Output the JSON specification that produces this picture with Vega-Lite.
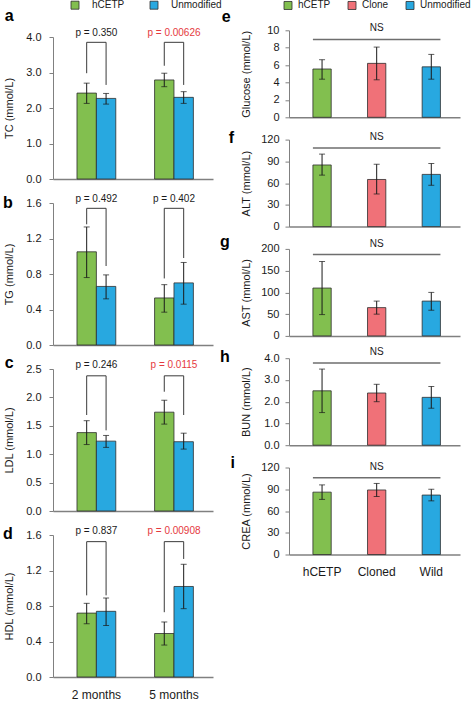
{
  "$schema": "https://vega.github.io/schema/vega-lite/v6.json",
  "padding": {"left": 2, "top": 0, "right": 0, "bottom": 0},
  "background": "white",
  "config": {
    "font": "Liberation Sans",
    "view": {"stroke": null},
    "axis": {"grid": false, "labelOverlap": false, "domainColor": "#808080", "tickColor": "#808080", "labelColor": "#1a1a1a", "titleColor": "#1a1a1a", "titleFontWeight": "normal", "labelFontSize": 11, "titleFontSize": 11, "labelFont": "Liberation Sans", "titleFont": "Liberation Sans"},
    "legend": {"labelFontSize": 10, "labelColor": "#1a1a1a", "labelFont": "Liberation Sans"},
    "title": {"fontSize": 16, "fontWeight": "bold", "color": "#000000", "orient": "left", "anchor": "end", "angle": 0, "align": "left", "frame": "group", "baseline": "alphabetic", "font": "Liberation Sans"}
  },
  "datasets": {
    "lipid": [
      {"panel": "TC", "month": "2 months", "group": "hCETP", "mean": 2.42, "lo": 2.13, "hi": 2.70},
      {"panel": "TC", "month": "2 months", "group": "Unmodified", "mean": 2.27, "lo": 2.11, "hi": 2.41},
      {"panel": "TC", "month": "5 months", "group": "hCETP", "mean": 2.79, "lo": 2.60, "hi": 2.98},
      {"panel": "TC", "month": "5 months", "group": "Unmodified", "mean": 2.30, "lo": 2.13, "hi": 2.46},
      {"panel": "TG", "month": "2 months", "group": "hCETP", "mean": 1.05, "lo": 0.76, "hi": 1.33},
      {"panel": "TG", "month": "2 months", "group": "Unmodified", "mean": 0.66, "lo": 0.52, "hi": 0.79},
      {"panel": "TG", "month": "5 months", "group": "hCETP", "mean": 0.53, "lo": 0.37, "hi": 0.68},
      {"panel": "TG", "month": "5 months", "group": "Unmodified", "mean": 0.70, "lo": 0.46, "hi": 0.93},
      {"panel": "LDL", "month": "2 months", "group": "hCETP", "mean": 1.38, "lo": 1.17, "hi": 1.59},
      {"panel": "LDL", "month": "2 months", "group": "Unmodified", "mean": 1.23, "lo": 1.12, "hi": 1.33},
      {"panel": "LDL", "month": "5 months", "group": "hCETP", "mean": 1.74, "lo": 1.53, "hi": 1.95},
      {"panel": "LDL", "month": "5 months", "group": "Unmodified", "mean": 1.22, "lo": 1.09, "hi": 1.37},
      {"panel": "HDL", "month": "2 months", "group": "hCETP", "mean": 0.72, "lo": 0.60, "hi": 0.83},
      {"panel": "HDL", "month": "2 months", "group": "Unmodified", "mean": 0.74, "lo": 0.58, "hi": 0.89},
      {"panel": "HDL", "month": "5 months", "group": "hCETP", "mean": 0.49, "lo": 0.36, "hi": 0.62},
      {"panel": "HDL", "month": "5 months", "group": "Unmodified", "mean": 1.02, "lo": 0.77, "hi": 1.27}
    ],
    "brackets": [
      {"panel": "TC", "month": "2 months", "group": "hCETP", "o": 1, "y": 2.98},
      {"panel": "TC", "month": "2 months", "group": "hCETP", "o": 2, "y": 3.85},
      {"panel": "TC", "month": "2 months", "group": "Unmodified", "o": 3, "y": 3.85},
      {"panel": "TC", "month": "2 months", "group": "Unmodified", "o": 4, "y": 2.65},
      {"panel": "TC", "month": "5 months", "group": "hCETP", "o": 1, "y": 3.19},
      {"panel": "TC", "month": "5 months", "group": "hCETP", "o": 2, "y": 3.85},
      {"panel": "TC", "month": "5 months", "group": "Unmodified", "o": 3, "y": 3.85},
      {"panel": "TC", "month": "5 months", "group": "Unmodified", "o": 4, "y": 2.65},
      {"panel": "TG", "month": "2 months", "group": "hCETP", "o": 1, "y": 1.36},
      {"panel": "TG", "month": "2 months", "group": "hCETP", "o": 2, "y": 1.54},
      {"panel": "TG", "month": "2 months", "group": "Unmodified", "o": 3, "y": 1.54},
      {"panel": "TG", "month": "2 months", "group": "Unmodified", "o": 4, "y": 0.89},
      {"panel": "TG", "month": "5 months", "group": "hCETP", "o": 1, "y": 0.75},
      {"panel": "TG", "month": "5 months", "group": "hCETP", "o": 2, "y": 1.54},
      {"panel": "TG", "month": "5 months", "group": "Unmodified", "o": 3, "y": 1.54},
      {"panel": "TG", "month": "5 months", "group": "Unmodified", "o": 4, "y": 0.98},
      {"panel": "LDL", "month": "2 months", "group": "hCETP", "o": 1, "y": 1.69},
      {"panel": "LDL", "month": "2 months", "group": "hCETP", "o": 2, "y": 2.38},
      {"panel": "LDL", "month": "2 months", "group": "Unmodified", "o": 3, "y": 2.38},
      {"panel": "LDL", "month": "2 months", "group": "Unmodified", "o": 4, "y": 1.42},
      {"panel": "LDL", "month": "5 months", "group": "hCETP", "o": 1, "y": 2.10},
      {"panel": "LDL", "month": "5 months", "group": "hCETP", "o": 2, "y": 2.38},
      {"panel": "LDL", "month": "5 months", "group": "Unmodified", "o": 3, "y": 2.38},
      {"panel": "LDL", "month": "5 months", "group": "Unmodified", "o": 4, "y": 1.69},
      {"panel": "HDL", "month": "2 months", "group": "hCETP", "o": 1, "y": 0.92},
      {"panel": "HDL", "month": "2 months", "group": "hCETP", "o": 2, "y": 1.525},
      {"panel": "HDL", "month": "2 months", "group": "Unmodified", "o": 3, "y": 1.525},
      {"panel": "HDL", "month": "2 months", "group": "Unmodified", "o": 4, "y": 0.92},
      {"panel": "HDL", "month": "5 months", "group": "hCETP", "o": 1, "y": 0.73},
      {"panel": "HDL", "month": "5 months", "group": "hCETP", "o": 2, "y": 1.525},
      {"panel": "HDL", "month": "5 months", "group": "Unmodified", "o": 3, "y": 1.525},
      {"panel": "HDL", "month": "5 months", "group": "Unmodified", "o": 4, "y": 1.33}
    ],
    "ptext": [
      {"panel": "TC", "month": "2 months", "label": "p = 0.350", "p": "0.350", "y": 4.0},
      {"panel": "TC", "month": "5 months", "label": "p = 0.00626", "p": "0.00626", "y": 4.0},
      {"panel": "TG", "month": "2 months", "label": "p = 0.492", "p": "0.492", "y": 1.6},
      {"panel": "TG", "month": "5 months", "label": "p = 0.402", "p": "0.402", "y": 1.6},
      {"panel": "LDL", "month": "2 months", "label": "p = 0.246", "p": "0.246", "y": 2.5},
      {"panel": "LDL", "month": "5 months", "label": "p = 0.0115", "p": "0.0115", "y": 2.5},
      {"panel": "HDL", "month": "2 months", "label": "p = 0.837", "p": "0.837", "y": 1.6},
      {"panel": "HDL", "month": "5 months", "label": "p = 0.00908", "p": "0.00908", "y": 1.6}
    ],
    "clin": [
      {"panel": "Glucose", "cat": "hCETP", "grp": "hCETP", "mean": 5.55, "lo": 4.38, "hi": 6.62},
      {"panel": "Glucose", "cat": "Cloned", "grp": "Clone", "mean": 6.2, "lo": 4.31, "hi": 8.07},
      {"panel": "Glucose", "cat": "Wild", "grp": "Unmodified", "mean": 5.8, "lo": 4.38, "hi": 7.23},
      {"panel": "ALT", "cat": "hCETP", "grp": "hCETP", "mean": 85, "lo": 71, "hi": 100},
      {"panel": "ALT", "cat": "Cloned", "grp": "Clone", "mean": 65, "lo": 45, "hi": 86},
      {"panel": "ALT", "cat": "Wild", "grp": "Unmodified", "mean": 72, "lo": 57, "hi": 87},
      {"panel": "AST", "cat": "hCETP", "grp": "hCETP", "mean": 110, "lo": 49, "hi": 171},
      {"panel": "AST", "cat": "Cloned", "grp": "Clone", "mean": 65, "lo": 50, "hi": 80},
      {"panel": "AST", "cat": "Wild", "grp": "Unmodified", "mean": 80, "lo": 59, "hi": 100},
      {"panel": "BUN", "cat": "hCETP", "grp": "hCETP", "mean": 2.5, "lo": 1.5, "hi": 3.5},
      {"panel": "BUN", "cat": "Cloned", "grp": "Clone", "mean": 2.4, "lo": 2.0, "hi": 2.8},
      {"panel": "BUN", "cat": "Wild", "grp": "Unmodified", "mean": 2.2, "lo": 1.7, "hi": 2.7},
      {"panel": "CREA", "cat": "hCETP", "grp": "hCETP", "mean": 86, "lo": 76, "hi": 96},
      {"panel": "CREA", "cat": "Cloned", "grp": "Clone", "mean": 89, "lo": 80, "hi": 98},
      {"panel": "CREA", "cat": "Wild", "grp": "Unmodified", "mean": 82, "lo": 74, "hi": 90}
    ],
    "ns": [
      {"panel": "Glucose", "cat": "hCETP", "cat2": "Wild", "mid": "Cloned", "label": "NS", "y": 8.95},
      {"panel": "ALT", "cat": "hCETP", "cat2": "Wild", "mid": "Cloned", "label": "NS", "y": 108.5},
      {"panel": "AST", "cat": "hCETP", "cat2": "Wild", "mid": "Cloned", "label": "NS", "y": 187},
      {"panel": "BUN", "cat": "hCETP", "cat2": "Wild", "mid": "Cloned", "label": "NS", "y": 3.78},
      {"panel": "CREA", "cat": "hCETP", "cat2": "Wild", "mid": "Cloned", "label": "NS", "y": 106}
    ]
  },
  "resolve": {"scale": {"color": "independent"}},
  "bounds": "flush",
  "spacing": 236,
  "hconcat": [
    {
      "bounds": "flush",
      "spacing": 24,
      "resolve": {"scale": {"color": "independent"}},
      "vconcat": [
        {"width": 160, "height": 7, "data": {"values": [{"v": 1}]}, "mark": {"type": "point", "opacity": 0}, "encoding": {}},
        {
          "width": 160, "height": 142,
          "title": {"text": "a", "offset": -19.5, "dy": -28.8},
          "encoding": {"x": {"field": "month", "type": "nominal", "scale": {"domain": ["2 months", "5 months"], "paddingInner": 0.5, "paddingOuter": 0.281, "align": 0.55}, "axis": {"title": null, "labels": false, "ticks": false, "domainWidth": 1.5}}},
          "layer": [
            {"data": {"name": "lipid"}, "transform": [{"filter": "datum.panel == 'TC'"}], "mark": {"type": "bar", "stroke": "#2d2d2d", "strokeWidth": 0.8},
             "encoding": {
               "xOffset": {"field": "group", "type": "nominal", "scale": {"domain": ["hCETP", "Unmodified"]}},
               "y": {"field": "mean", "type": "quantitative", "scale": {"domain": [0, 4], "nice": false}, "axis": {"title": "TC (mmol/L)", "values": [0, 1, 2, 3, 4], "tickCount": 20, "format": ".1f", "tickSize": 4, "labelPadding": 8, "titleX": -44, "titleBaseline": "middle"}},
               "color": {"field": "group", "type": "nominal", "scale": {"domain": ["hCETP", "Unmodified"], "range": ["#82bf4f", "#28a8e0"]}, "legend": {"orient": "none", "legendX": 17, "legendY": -37, "direction": "horizontal", "title": null, "symbolType": "square", "symbolSize": 64, "symbolStrokeColor": "#2d2d2d", "symbolStrokeWidth": 0.8, "symbolOpacity": 1, "labelOffset": 12, "columnPadding": 23, "padding": 0}}
             }},
            {"data": {"name": "lipid"}, "transform": [{"filter": "datum.panel == 'TC'"}], "mark": {"type": "rule", "color": "#1a1a1a", "strokeWidth": 1},
             "encoding": {"xOffset": {"field": "group", "type": "nominal"}, "y": {"field": "lo", "type": "quantitative"}, "y2": {"field": "hi"}}},
            {"data": {"name": "lipid"}, "transform": [{"filter": "datum.panel == 'TC'"}], "mark": {"type": "tick", "orient": "horizontal", "size": 6, "thickness": 1, "color": "#1a1a1a"},
             "encoding": {"xOffset": {"field": "group", "type": "nominal"}, "y": {"field": "lo", "type": "quantitative"}}},
            {"data": {"name": "lipid"}, "transform": [{"filter": "datum.panel == 'TC'"}], "mark": {"type": "tick", "orient": "horizontal", "size": 6, "thickness": 1, "color": "#1a1a1a"},
             "encoding": {"xOffset": {"field": "group", "type": "nominal"}, "y": {"field": "hi", "type": "quantitative"}}},
            {"data": {"name": "brackets"}, "transform": [{"filter": "datum.panel == 'TC'"}], "mark": {"type": "line", "color": "#3a3a3a", "strokeWidth": 1},
             "encoding": {"xOffset": {"field": "group", "type": "nominal"}, "y": {"field": "y", "type": "quantitative"}, "detail": {"field": "month"}, "order": {"field": "o", "type": "quantitative"}}},
            {"data": {"name": "ptext"}, "transform": [{"filter": "datum.panel == 'TC'"}], "mark": {"type": "text", "fontSize": 10, "baseline": "middle", "dy": -4.5},
             "encoding": {"y": {"field": "y", "type": "quantitative"}, "text": {"field": "label"}, "color": {"condition": {"test": "toNumber(datum.p) < 0.05", "value": "#e5393e"}, "value": "#1a1a1a"}}}
          ]
        },
        {
          "width": 160, "height": 142,
          "title": {"text": "b", "offset": -19.5, "dy": -8.5},
          "encoding": {"x": {"field": "month", "type": "nominal", "scale": {"domain": ["2 months", "5 months"], "paddingInner": 0.5, "paddingOuter": 0.281, "align": 0.55}, "axis": {"title": null, "labels": false, "ticks": false, "domainWidth": 1.5}}},
          "layer": [
            {"data": {"name": "lipid"}, "transform": [{"filter": "datum.panel == 'TG'"}], "mark": {"type": "bar", "stroke": "#2d2d2d", "strokeWidth": 0.8},
             "encoding": {
               "xOffset": {"field": "group", "type": "nominal", "scale": {"domain": ["hCETP", "Unmodified"]}},
               "y": {"field": "mean", "type": "quantitative", "scale": {"domain": [0, 1.6], "nice": false}, "axis": {"title": "TG (mmol/L)", "values": [0, 0.4, 0.8, 1.2, 1.6], "tickCount": 20, "format": ".1f", "tickSize": 4, "labelPadding": 8, "titleX": -44, "titleBaseline": "middle"}},
               "color": {"field": "group", "type": "nominal", "scale": {"domain": ["hCETP", "Unmodified"], "range": ["#82bf4f", "#28a8e0"]}, "legend": null}
             }},
            {"data": {"name": "lipid"}, "transform": [{"filter": "datum.panel == 'TG'"}], "mark": {"type": "rule", "color": "#1a1a1a", "strokeWidth": 1},
             "encoding": {"xOffset": {"field": "group", "type": "nominal"}, "y": {"field": "lo", "type": "quantitative"}, "y2": {"field": "hi"}}},
            {"data": {"name": "lipid"}, "transform": [{"filter": "datum.panel == 'TG'"}], "mark": {"type": "tick", "orient": "horizontal", "size": 6, "thickness": 1, "color": "#1a1a1a"},
             "encoding": {"xOffset": {"field": "group", "type": "nominal"}, "y": {"field": "lo", "type": "quantitative"}}},
            {"data": {"name": "lipid"}, "transform": [{"filter": "datum.panel == 'TG'"}], "mark": {"type": "tick", "orient": "horizontal", "size": 6, "thickness": 1, "color": "#1a1a1a"},
             "encoding": {"xOffset": {"field": "group", "type": "nominal"}, "y": {"field": "hi", "type": "quantitative"}}},
            {"data": {"name": "brackets"}, "transform": [{"filter": "datum.panel == 'TG'"}], "mark": {"type": "line", "color": "#3a3a3a", "strokeWidth": 1},
             "encoding": {"xOffset": {"field": "group", "type": "nominal"}, "y": {"field": "y", "type": "quantitative"}, "detail": {"field": "month"}, "order": {"field": "o", "type": "quantitative"}}},
            {"data": {"name": "ptext"}, "transform": [{"filter": "datum.panel == 'TG'"}], "mark": {"type": "text", "fontSize": 10, "baseline": "middle", "dy": -4.5},
             "encoding": {"y": {"field": "y", "type": "quantitative"}, "text": {"field": "label"}, "color": {"condition": {"test": "toNumber(datum.p) < 0.05", "value": "#e5393e"}, "value": "#1a1a1a"}}}
          ]
        },
        {
          "width": 160, "height": 142,
          "title": {"text": "c", "offset": -19.5, "dy": -13.8},
          "encoding": {"x": {"field": "month", "type": "nominal", "scale": {"domain": ["2 months", "5 months"], "paddingInner": 0.5, "paddingOuter": 0.281, "align": 0.55}, "axis": {"title": null, "labels": false, "ticks": false, "domainWidth": 1.5}}},
          "layer": [
            {"data": {"name": "lipid"}, "transform": [{"filter": "datum.panel == 'LDL'"}], "mark": {"type": "bar", "stroke": "#2d2d2d", "strokeWidth": 0.8},
             "encoding": {
               "xOffset": {"field": "group", "type": "nominal", "scale": {"domain": ["hCETP", "Unmodified"]}},
               "y": {"field": "mean", "type": "quantitative", "scale": {"domain": [0, 2.5], "nice": false}, "axis": {"title": "LDL (mmol/L)", "values": [0, 0.5, 1, 1.5, 2, 2.5], "tickCount": 20, "format": ".1f", "tickSize": 4, "labelPadding": 8, "titleX": -44, "titleBaseline": "middle"}},
               "color": {"field": "group", "type": "nominal", "scale": {"domain": ["hCETP", "Unmodified"], "range": ["#82bf4f", "#28a8e0"]}, "legend": null}
             }},
            {"data": {"name": "lipid"}, "transform": [{"filter": "datum.panel == 'LDL'"}], "mark": {"type": "rule", "color": "#1a1a1a", "strokeWidth": 1},
             "encoding": {"xOffset": {"field": "group", "type": "nominal"}, "y": {"field": "lo", "type": "quantitative"}, "y2": {"field": "hi"}}},
            {"data": {"name": "lipid"}, "transform": [{"filter": "datum.panel == 'LDL'"}], "mark": {"type": "tick", "orient": "horizontal", "size": 6, "thickness": 1, "color": "#1a1a1a"},
             "encoding": {"xOffset": {"field": "group", "type": "nominal"}, "y": {"field": "lo", "type": "quantitative"}}},
            {"data": {"name": "lipid"}, "transform": [{"filter": "datum.panel == 'LDL'"}], "mark": {"type": "tick", "orient": "horizontal", "size": 6, "thickness": 1, "color": "#1a1a1a"},
             "encoding": {"xOffset": {"field": "group", "type": "nominal"}, "y": {"field": "hi", "type": "quantitative"}}},
            {"data": {"name": "brackets"}, "transform": [{"filter": "datum.panel == 'LDL'"}], "mark": {"type": "line", "color": "#3a3a3a", "strokeWidth": 1},
             "encoding": {"xOffset": {"field": "group", "type": "nominal"}, "y": {"field": "y", "type": "quantitative"}, "detail": {"field": "month"}, "order": {"field": "o", "type": "quantitative"}}},
            {"data": {"name": "ptext"}, "transform": [{"filter": "datum.panel == 'LDL'"}], "mark": {"type": "text", "fontSize": 10, "baseline": "middle", "dy": -4.5},
             "encoding": {"y": {"field": "y", "type": "quantitative"}, "text": {"field": "label"}, "color": {"condition": {"test": "toNumber(datum.p) < 0.05", "value": "#e5393e"}, "value": "#1a1a1a"}}}
          ]
        },
        {
          "width": 160, "height": 142,
          "title": {"text": "d", "offset": -19.5, "dy": -9.2},
          "encoding": {"x": {"field": "month", "type": "nominal", "scale": {"domain": ["2 months", "5 months"], "paddingInner": 0.5, "paddingOuter": 0.281, "align": 0.55}, "axis": {"title": null, "labels": true, "ticks": false, "labelAngle": 0, "labelFontSize": 12, "labelPadding": 12, "domainWidth": 1.5}}},
          "layer": [
            {"data": {"name": "lipid"}, "transform": [{"filter": "datum.panel == 'HDL'"}], "mark": {"type": "bar", "stroke": "#2d2d2d", "strokeWidth": 0.8},
             "encoding": {
               "xOffset": {"field": "group", "type": "nominal", "scale": {"domain": ["hCETP", "Unmodified"]}},
               "y": {"field": "mean", "type": "quantitative", "scale": {"domain": [0, 1.6], "nice": false}, "axis": {"title": "HDL (mmol/L)", "values": [0, 0.4, 0.8, 1.2, 1.6], "tickCount": 20, "format": ".1f", "tickSize": 4, "labelPadding": 8, "titleX": -44, "titleBaseline": "middle"}},
               "color": {"field": "group", "type": "nominal", "scale": {"domain": ["hCETP", "Unmodified"], "range": ["#82bf4f", "#28a8e0"]}, "legend": null}
             }},
            {"data": {"name": "lipid"}, "transform": [{"filter": "datum.panel == 'HDL'"}], "mark": {"type": "rule", "color": "#1a1a1a", "strokeWidth": 1},
             "encoding": {"xOffset": {"field": "group", "type": "nominal"}, "y": {"field": "lo", "type": "quantitative"}, "y2": {"field": "hi"}}},
            {"data": {"name": "lipid"}, "transform": [{"filter": "datum.panel == 'HDL'"}], "mark": {"type": "tick", "orient": "horizontal", "size": 6, "thickness": 1, "color": "#1a1a1a"},
             "encoding": {"xOffset": {"field": "group", "type": "nominal"}, "y": {"field": "lo", "type": "quantitative"}}},
            {"data": {"name": "lipid"}, "transform": [{"filter": "datum.panel == 'HDL'"}], "mark": {"type": "tick", "orient": "horizontal", "size": 6, "thickness": 1, "color": "#1a1a1a"},
             "encoding": {"xOffset": {"field": "group", "type": "nominal"}, "y": {"field": "hi", "type": "quantitative"}}},
            {"data": {"name": "brackets"}, "transform": [{"filter": "datum.panel == 'HDL'"}], "mark": {"type": "line", "color": "#3a3a3a", "strokeWidth": 1},
             "encoding": {"xOffset": {"field": "group", "type": "nominal"}, "y": {"field": "y", "type": "quantitative"}, "detail": {"field": "month"}, "order": {"field": "o", "type": "quantitative"}}},
            {"data": {"name": "ptext"}, "transform": [{"filter": "datum.panel == 'HDL'"}], "mark": {"type": "text", "fontSize": 10, "baseline": "middle", "dy": -4.5},
             "encoding": {"y": {"field": "y", "type": "quantitative"}, "text": {"field": "label"}, "color": {"condition": {"test": "toNumber(datum.p) < 0.05", "value": "#e5393e"}, "value": "#1a1a1a"}}}
          ]
        }
      ]
    },
    {
      "bounds": "flush",
      "spacing": 22.3,
      "resolve": {"scale": {"color": "independent"}},
      "vconcat": [
        {"width": 171, "height": 2, "data": {"values": [{"v": 1}]}, "mark": {"type": "point", "opacity": 0}, "encoding": {}},
        {
          "width": 171, "height": 87,
          "title": {"text": "e", "offset": 0.5, "dy": -21.8},
          "encoding": {"x": {"field": "cat", "type": "nominal", "scale": {"domain": ["hCETP", "Cloned", "Wild"], "paddingInner": 0.665, "paddingOuter": 0.398, "align": 0.55}, "axis": {"title": null, "labels": false, "ticks": false, "domainWidth": 1.5}}},
          "layer": [
            {"data": {"name": "clin"}, "transform": [{"filter": "datum.panel == 'Glucose'"}], "mark": {"type": "bar", "stroke": "#2d2d2d", "strokeWidth": 0.8},
             "encoding": {
               "y": {"field": "mean", "type": "quantitative", "scale": {"domain": [0, 10], "nice": false}, "axis": {"title": "Glucose (mmol/L)", "values": [0, 2, 4, 6, 8, 10], "tickCount": 20, "format": "d", "tickSize": 4, "labelPadding": 6, "titleX": -43, "titleBaseline": "middle"}},
               "color": {"field": "grp", "type": "nominal", "scale": {"domain": ["hCETP", "Clone", "Unmodified"], "range": ["#82bf4f", "#f07178", "#28a8e0"]}, "legend": {"orient": "none", "legendX": -6, "legendY": -30, "direction": "horizontal", "title": null, "symbolType": "square", "symbolSize": 64, "symbolStrokeColor": "#2d2d2d", "symbolStrokeWidth": 0.8, "symbolOpacity": 1, "labelOffset": 5, "columnPadding": 15, "padding": 0}}
             }},
            {"data": {"name": "clin"}, "transform": [{"filter": "datum.panel == 'Glucose'"}], "mark": {"type": "rule", "color": "#1a1a1a", "strokeWidth": 1},
             "encoding": {"y": {"field": "lo", "type": "quantitative"}, "y2": {"field": "hi"}}},
            {"data": {"name": "clin"}, "transform": [{"filter": "datum.panel == 'Glucose'"}], "mark": {"type": "tick", "orient": "horizontal", "size": 6, "thickness": 1, "color": "#1a1a1a"},
             "encoding": {"y": {"field": "lo", "type": "quantitative"}}},
            {"data": {"name": "clin"}, "transform": [{"filter": "datum.panel == 'Glucose'"}], "mark": {"type": "tick", "orient": "horizontal", "size": 6, "thickness": 1, "color": "#1a1a1a"},
             "encoding": {"y": {"field": "hi", "type": "quantitative"}}},
            {"data": {"name": "ns"}, "transform": [{"filter": "datum.panel == 'Glucose'"}], "mark": {"type": "rule", "color": "#6e6e6e", "strokeWidth": 1.5},
             "encoding": {"x": {"field": "cat", "type": "nominal", "bandPosition": 0}, "x2": {"field": "cat2", "bandPosition": 1}, "y": {"field": "y", "type": "quantitative"}}},
            {"data": {"name": "ns"}, "transform": [{"filter": "datum.panel == 'Glucose'"}], "mark": {"type": "text", "fontSize": 10, "baseline": "middle", "dy": -11, "color": "#1a1a1a"},
             "encoding": {"x": {"field": "mid", "type": "nominal"}, "y": {"field": "y", "type": "quantitative"}, "text": {"field": "label"}}}
          ]
        },
        {
          "width": 171, "height": 87,
          "title": {"text": "f", "offset": 0.5, "dy": -9.2},
          "encoding": {"x": {"field": "cat", "type": "nominal", "scale": {"domain": ["hCETP", "Cloned", "Wild"], "paddingInner": 0.665, "paddingOuter": 0.398, "align": 0.55}, "axis": {"title": null, "labels": false, "ticks": false, "domainWidth": 1.5}}},
          "layer": [
            {"data": {"name": "clin"}, "transform": [{"filter": "datum.panel == 'ALT'"}], "mark": {"type": "bar", "stroke": "#2d2d2d", "strokeWidth": 0.8},
             "encoding": {
               "y": {"field": "mean", "type": "quantitative", "scale": {"domain": [0, 120], "nice": false}, "axis": {"title": "ALT (mmol/L)", "values": [0, 30, 60, 90, 120], "tickCount": 20, "format": "d", "tickSize": 4, "labelPadding": 6, "titleX": -43, "titleBaseline": "middle"}},
               "color": {"field": "grp", "type": "nominal", "scale": {"domain": ["hCETP", "Clone", "Unmodified"], "range": ["#82bf4f", "#f07178", "#28a8e0"]}, "legend": null}
             }},
            {"data": {"name": "clin"}, "transform": [{"filter": "datum.panel == 'ALT'"}], "mark": {"type": "rule", "color": "#1a1a1a", "strokeWidth": 1},
             "encoding": {"y": {"field": "lo", "type": "quantitative"}, "y2": {"field": "hi"}}},
            {"data": {"name": "clin"}, "transform": [{"filter": "datum.panel == 'ALT'"}], "mark": {"type": "tick", "orient": "horizontal", "size": 6, "thickness": 1, "color": "#1a1a1a"},
             "encoding": {"y": {"field": "lo", "type": "quantitative"}}},
            {"data": {"name": "clin"}, "transform": [{"filter": "datum.panel == 'ALT'"}], "mark": {"type": "tick", "orient": "horizontal", "size": 6, "thickness": 1, "color": "#1a1a1a"},
             "encoding": {"y": {"field": "hi", "type": "quantitative"}}},
            {"data": {"name": "ns"}, "transform": [{"filter": "datum.panel == 'ALT'"}], "mark": {"type": "rule", "color": "#6e6e6e", "strokeWidth": 1.5},
             "encoding": {"x": {"field": "cat", "type": "nominal", "bandPosition": 0}, "x2": {"field": "cat2", "bandPosition": 1}, "y": {"field": "y", "type": "quantitative"}}},
            {"data": {"name": "ns"}, "transform": [{"filter": "datum.panel == 'ALT'"}], "mark": {"type": "text", "fontSize": 10, "baseline": "middle", "dy": -11, "color": "#1a1a1a"},
             "encoding": {"x": {"field": "mid", "type": "nominal"}, "y": {"field": "y", "type": "quantitative"}, "text": {"field": "label"}}}
          ]
        },
        {
          "width": 171, "height": 87,
          "title": {"text": "g", "offset": 0.5, "dy": -14.8},
          "encoding": {"x": {"field": "cat", "type": "nominal", "scale": {"domain": ["hCETP", "Cloned", "Wild"], "paddingInner": 0.665, "paddingOuter": 0.398, "align": 0.55}, "axis": {"title": null, "labels": false, "ticks": false, "domainWidth": 1.5}}},
          "layer": [
            {"data": {"name": "clin"}, "transform": [{"filter": "datum.panel == 'AST'"}], "mark": {"type": "bar", "stroke": "#2d2d2d", "strokeWidth": 0.8},
             "encoding": {
               "y": {"field": "mean", "type": "quantitative", "scale": {"domain": [0, 200], "nice": false}, "axis": {"title": "AST (mmol/L)", "values": [0, 50, 100, 150, 200], "tickCount": 20, "format": "d", "tickSize": 4, "labelPadding": 6, "titleX": -43, "titleBaseline": "middle"}},
               "color": {"field": "grp", "type": "nominal", "scale": {"domain": ["hCETP", "Clone", "Unmodified"], "range": ["#82bf4f", "#f07178", "#28a8e0"]}, "legend": null}
             }},
            {"data": {"name": "clin"}, "transform": [{"filter": "datum.panel == 'AST'"}], "mark": {"type": "rule", "color": "#1a1a1a", "strokeWidth": 1},
             "encoding": {"y": {"field": "lo", "type": "quantitative"}, "y2": {"field": "hi"}}},
            {"data": {"name": "clin"}, "transform": [{"filter": "datum.panel == 'AST'"}], "mark": {"type": "tick", "orient": "horizontal", "size": 6, "thickness": 1, "color": "#1a1a1a"},
             "encoding": {"y": {"field": "lo", "type": "quantitative"}}},
            {"data": {"name": "clin"}, "transform": [{"filter": "datum.panel == 'AST'"}], "mark": {"type": "tick", "orient": "horizontal", "size": 6, "thickness": 1, "color": "#1a1a1a"},
             "encoding": {"y": {"field": "hi", "type": "quantitative"}}},
            {"data": {"name": "ns"}, "transform": [{"filter": "datum.panel == 'AST'"}], "mark": {"type": "rule", "color": "#6e6e6e", "strokeWidth": 1.5},
             "encoding": {"x": {"field": "cat", "type": "nominal", "bandPosition": 0}, "x2": {"field": "cat2", "bandPosition": 1}, "y": {"field": "y", "type": "quantitative"}}},
            {"data": {"name": "ns"}, "transform": [{"filter": "datum.panel == 'AST'"}], "mark": {"type": "text", "fontSize": 10, "baseline": "middle", "dy": -11, "color": "#1a1a1a"},
             "encoding": {"x": {"field": "mid", "type": "nominal"}, "y": {"field": "y", "type": "quantitative"}, "text": {"field": "label"}}}
          ]
        },
        {
          "width": 171, "height": 87,
          "title": {"text": "h", "offset": 0.5, "dy": -9.5},
          "encoding": {"x": {"field": "cat", "type": "nominal", "scale": {"domain": ["hCETP", "Cloned", "Wild"], "paddingInner": 0.665, "paddingOuter": 0.398, "align": 0.55}, "axis": {"title": null, "labels": false, "ticks": false, "domainWidth": 1.5}}},
          "layer": [
            {"data": {"name": "clin"}, "transform": [{"filter": "datum.panel == 'BUN'"}], "mark": {"type": "bar", "stroke": "#2d2d2d", "strokeWidth": 0.8},
             "encoding": {
               "y": {"field": "mean", "type": "quantitative", "scale": {"domain": [0, 4], "nice": false}, "axis": {"title": "BUN (mmol/L)", "values": [0, 1, 2, 3, 4], "tickCount": 20, "format": ".1f", "tickSize": 4, "labelPadding": 6, "titleX": -43, "titleBaseline": "middle"}},
               "color": {"field": "grp", "type": "nominal", "scale": {"domain": ["hCETP", "Clone", "Unmodified"], "range": ["#82bf4f", "#f07178", "#28a8e0"]}, "legend": null}
             }},
            {"data": {"name": "clin"}, "transform": [{"filter": "datum.panel == 'BUN'"}], "mark": {"type": "rule", "color": "#1a1a1a", "strokeWidth": 1},
             "encoding": {"y": {"field": "lo", "type": "quantitative"}, "y2": {"field": "hi"}}},
            {"data": {"name": "clin"}, "transform": [{"filter": "datum.panel == 'BUN'"}], "mark": {"type": "tick", "orient": "horizontal", "size": 6, "thickness": 1, "color": "#1a1a1a"},
             "encoding": {"y": {"field": "lo", "type": "quantitative"}}},
            {"data": {"name": "clin"}, "transform": [{"filter": "datum.panel == 'BUN'"}], "mark": {"type": "tick", "orient": "horizontal", "size": 6, "thickness": 1, "color": "#1a1a1a"},
             "encoding": {"y": {"field": "hi", "type": "quantitative"}}},
            {"data": {"name": "ns"}, "transform": [{"filter": "datum.panel == 'BUN'"}], "mark": {"type": "rule", "color": "#6e6e6e", "strokeWidth": 1.5},
             "encoding": {"x": {"field": "cat", "type": "nominal", "bandPosition": 0}, "x2": {"field": "cat2", "bandPosition": 1}, "y": {"field": "y", "type": "quantitative"}}},
            {"data": {"name": "ns"}, "transform": [{"filter": "datum.panel == 'BUN'"}], "mark": {"type": "text", "fontSize": 10, "baseline": "middle", "dy": -11, "color": "#1a1a1a"},
             "encoding": {"x": {"field": "mid", "type": "nominal"}, "y": {"field": "y", "type": "quantitative"}, "text": {"field": "label"}}}
          ]
        },
        {
          "width": 171, "height": 87,
          "title": {"text": "i", "offset": 0.5, "dy": -12.8},
          "encoding": {"x": {"field": "cat", "type": "nominal", "scale": {"domain": ["hCETP", "Cloned", "Wild"], "paddingInner": 0.665, "paddingOuter": 0.398, "align": 0.55}, "axis": {"title": null, "labels": true, "ticks": false, "labelAngle": 0, "labelFontSize": 12, "labelPadding": 12, "domainWidth": 1.5}}},
          "layer": [
            {"data": {"name": "clin"}, "transform": [{"filter": "datum.panel == 'CREA'"}], "mark": {"type": "bar", "stroke": "#2d2d2d", "strokeWidth": 0.8},
             "encoding": {
               "y": {"field": "mean", "type": "quantitative", "scale": {"domain": [0, 120], "nice": false}, "axis": {"title": "CREA (mmol/L)", "values": [0, 30, 60, 90, 120], "tickCount": 20, "format": "d", "tickSize": 4, "labelPadding": 6, "titleX": -43, "titleBaseline": "middle"}},
               "color": {"field": "grp", "type": "nominal", "scale": {"domain": ["hCETP", "Clone", "Unmodified"], "range": ["#82bf4f", "#f07178", "#28a8e0"]}, "legend": null}
             }},
            {"data": {"name": "clin"}, "transform": [{"filter": "datum.panel == 'CREA'"}], "mark": {"type": "rule", "color": "#1a1a1a", "strokeWidth": 1},
             "encoding": {"y": {"field": "lo", "type": "quantitative"}, "y2": {"field": "hi"}}},
            {"data": {"name": "clin"}, "transform": [{"filter": "datum.panel == 'CREA'"}], "mark": {"type": "tick", "orient": "horizontal", "size": 6, "thickness": 1, "color": "#1a1a1a"},
             "encoding": {"y": {"field": "lo", "type": "quantitative"}}},
            {"data": {"name": "clin"}, "transform": [{"filter": "datum.panel == 'CREA'"}], "mark": {"type": "tick", "orient": "horizontal", "size": 6, "thickness": 1, "color": "#1a1a1a"},
             "encoding": {"y": {"field": "hi", "type": "quantitative"}}},
            {"data": {"name": "ns"}, "transform": [{"filter": "datum.panel == 'CREA'"}], "mark": {"type": "rule", "color": "#6e6e6e", "strokeWidth": 1.5},
             "encoding": {"x": {"field": "cat", "type": "nominal", "bandPosition": 0}, "x2": {"field": "cat2", "bandPosition": 1}, "y": {"field": "y", "type": "quantitative"}}},
            {"data": {"name": "ns"}, "transform": [{"filter": "datum.panel == 'CREA'"}], "mark": {"type": "text", "fontSize": 10, "baseline": "middle", "dy": -11, "color": "#1a1a1a"},
             "encoding": {"x": {"field": "mid", "type": "nominal"}, "y": {"field": "y", "type": "quantitative"}, "text": {"field": "label"}}}
          ]
        }
      ]
    }
  ]
}
